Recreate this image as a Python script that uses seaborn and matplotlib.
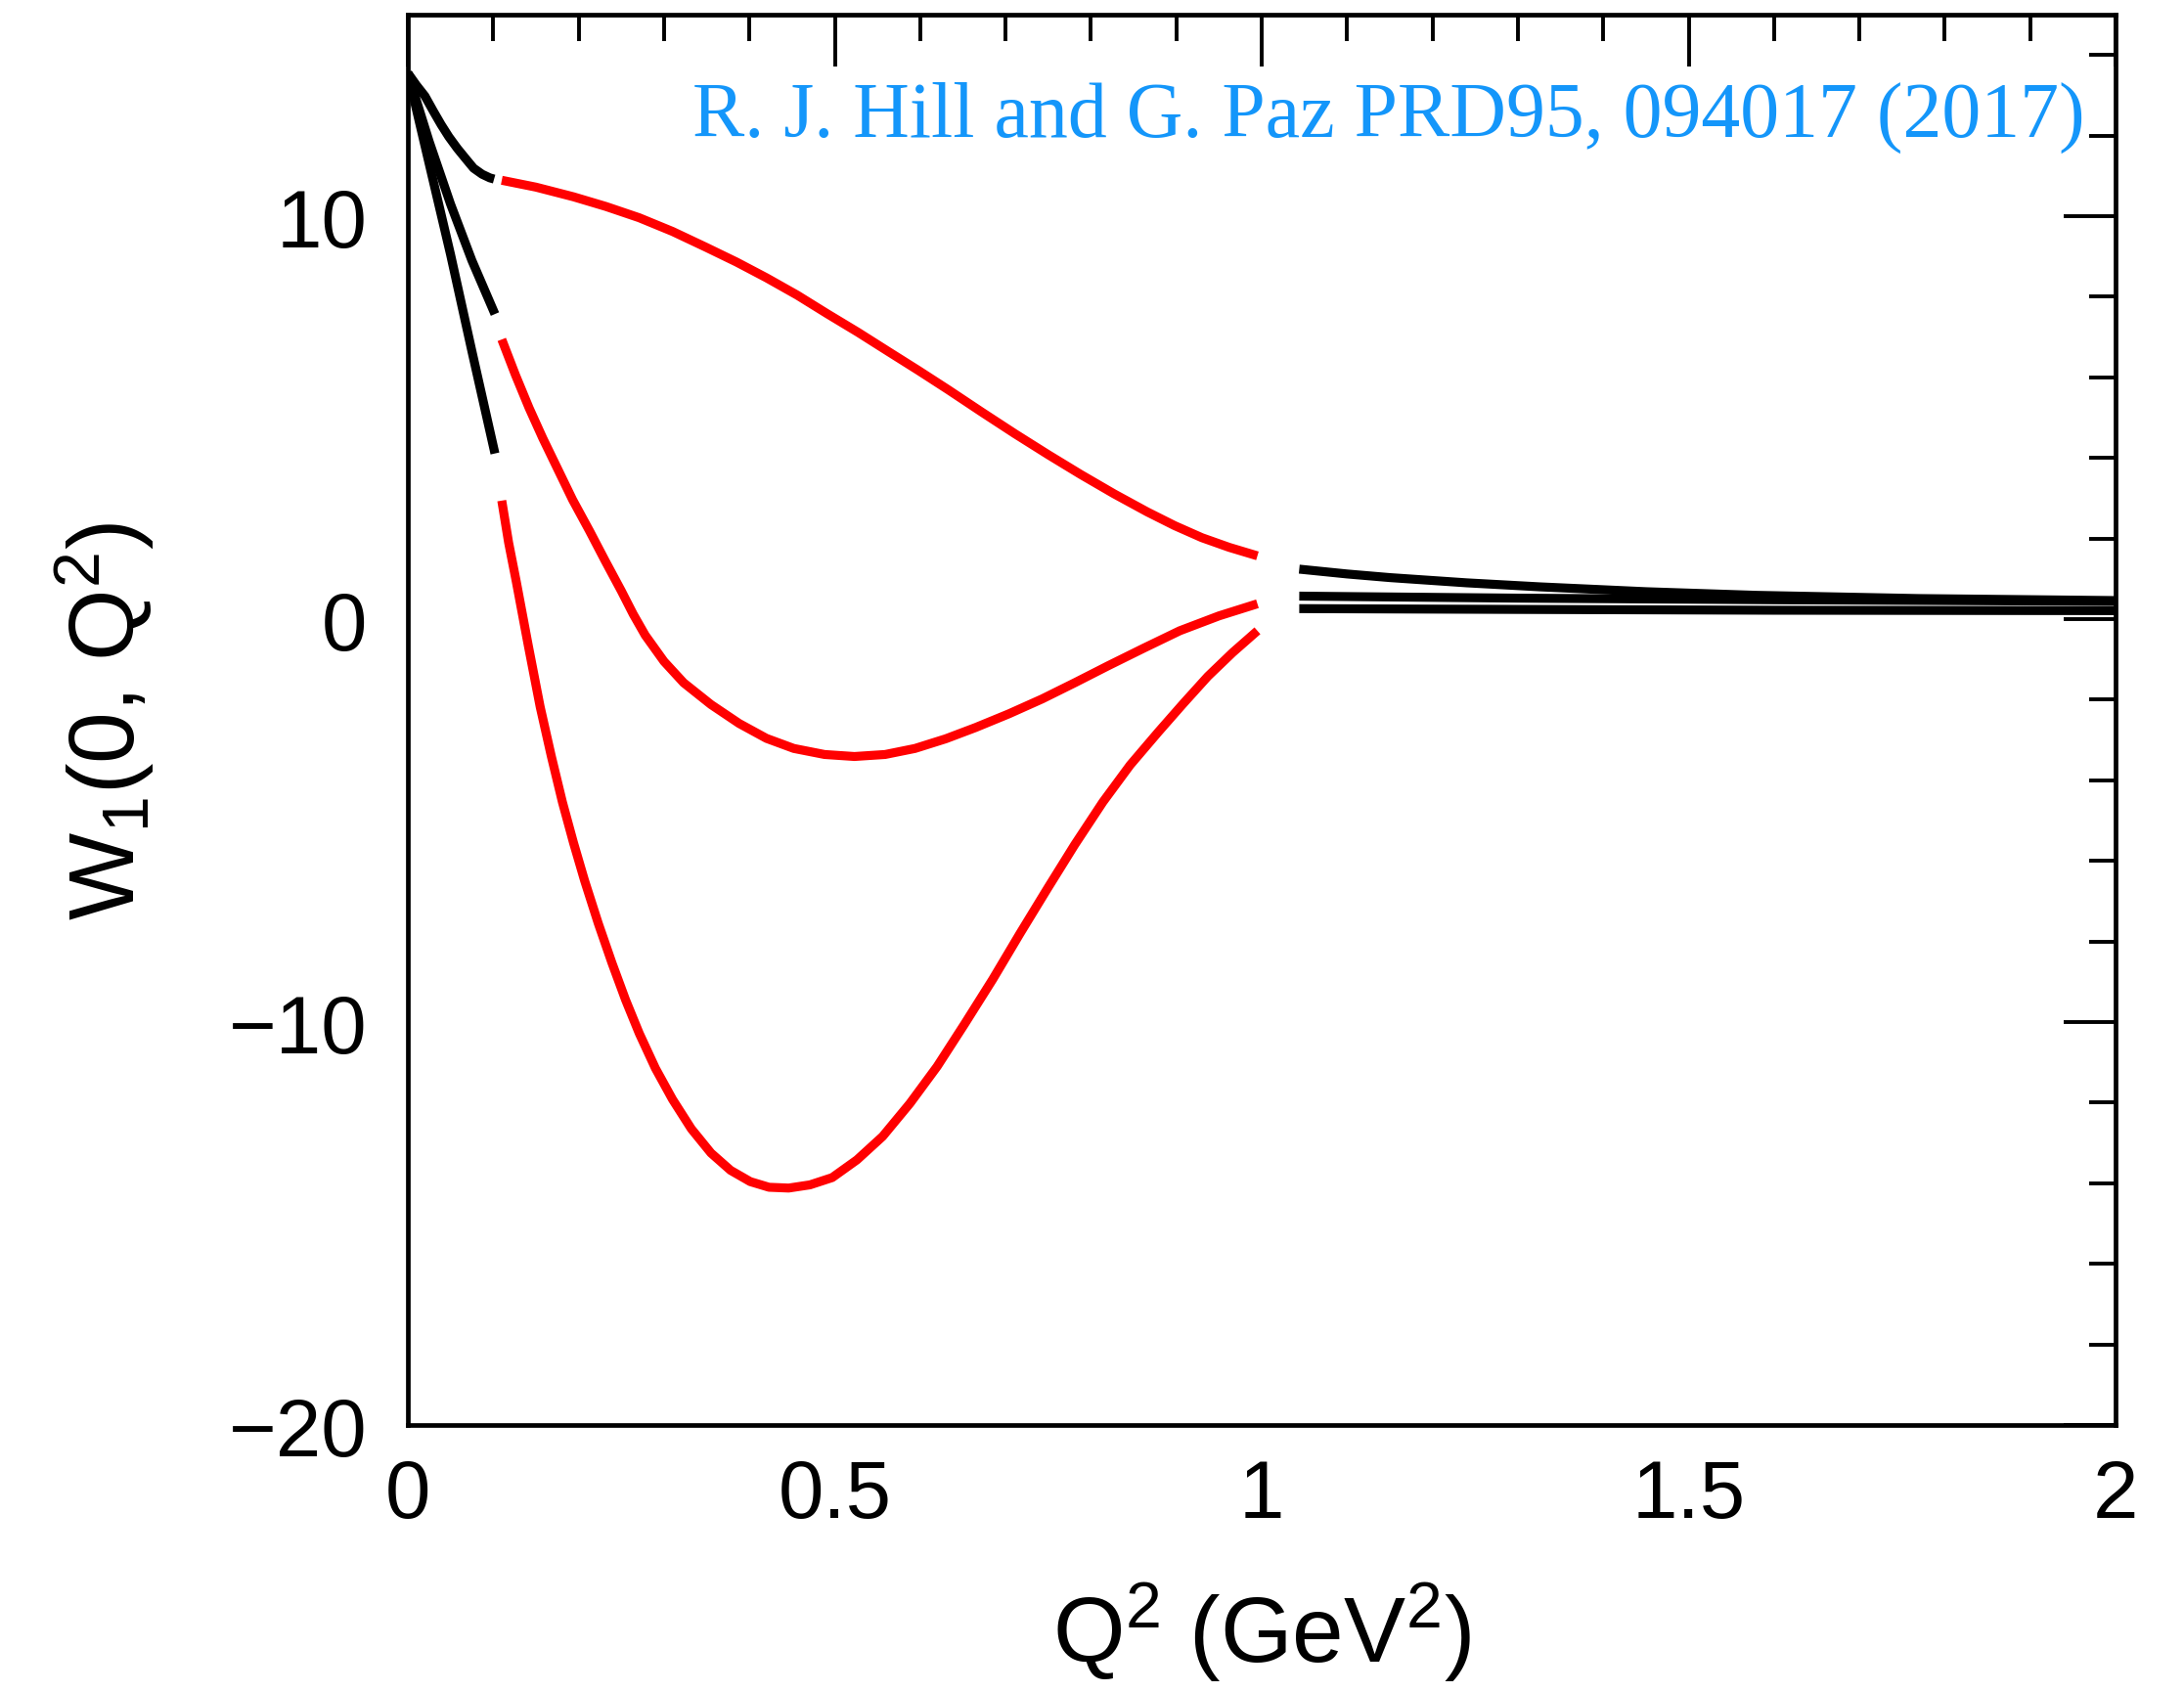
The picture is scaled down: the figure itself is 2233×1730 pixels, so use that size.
import numpy as np
import pandas as pd
import matplotlib
matplotlib.use("Agg")
import matplotlib.pyplot as plt
from matplotlib.ticker import MultipleLocator
import seaborn as sns

# ---- data ----
# low-Q2 black segments (0 < Q2 < 0.1)
blk_lo_x = [0.0, 0.01, 0.02, 0.03, 0.039, 0.048, 0.058, 0.068, 0.077, 0.087, 0.096, 0.101]
blk_lo_top = [13.55, 13.25, 12.98, 12.6, 12.27, 11.97, 11.68, 11.42, 11.19, 11.04, 10.95, 10.92]
blk_lo_mid_x = [0.0, 0.025, 0.05, 0.075, 0.102]
blk_lo_mid = [13.55, 11.85, 10.3, 8.9, 7.57]
blk_lo_bot_x = [0.0, 0.025, 0.05, 0.075, 0.102]
blk_lo_bot = [13.55, 11.3, 9.05, 6.65, 4.11]

# red segments (0.1 < Q2 < 1)
red_top_x = [0.110, 0.150, 0.194, 0.232, 0.271, 0.310, 0.349, 0.385, 0.420, 0.456,
             0.491, 0.527, 0.562, 0.598, 0.633, 0.672, 0.711, 0.750, 0.788, 0.827,
             0.866, 0.898, 0.930, 0.962, 0.995]
red_top = [10.89, 10.72, 10.48, 10.24, 9.96, 9.62, 9.23, 8.86, 8.47, 8.04,
           7.58, 7.12, 6.65, 6.17, 5.69, 5.14, 4.60, 4.08, 3.59, 3.11,
           2.66, 2.32, 2.02, 1.78, 1.57]
red_mid_x = [0.110, 0.126, 0.142, 0.158, 0.174, 0.193, 0.213, 0.231, 0.250, 0.264,
             0.278, 0.300, 0.323, 0.355, 0.388, 0.420, 0.452, 0.488, 0.523, 0.559,
             0.594, 0.630, 0.665, 0.704, 0.743, 0.782, 0.820, 0.862, 0.904, 0.950, 0.995]
red_mid = [6.94, 6.06, 5.24, 4.49, 3.79, 2.96, 2.18, 1.45, 0.70, 0.12,
           -0.40, -1.05, -1.58, -2.12, -2.59, -2.96, -3.21, -3.36, -3.41, -3.36,
           -3.21, -2.97, -2.69, -2.35, -1.98, -1.57, -1.16, -0.72, -0.29, 0.08, 0.38]
red_bot_x = [0.110, 0.118, 0.127, 0.141, 0.155, 0.168, 0.181, 0.194, 0.207, 0.223,
             0.239, 0.255, 0.271, 0.290, 0.310, 0.332, 0.355, 0.378, 0.401, 0.423,
             0.446, 0.471, 0.497, 0.526, 0.556, 0.588, 0.620, 0.652, 0.685, 0.717,
             0.749, 0.781, 0.814, 0.846, 0.879, 0.908, 0.937, 0.966, 0.995]
red_bot = [2.94, 1.90, 0.93, -0.65, -2.18, -3.40, -4.54, -5.55, -6.49, -7.55,
           -8.53, -9.45, -10.28, -11.15, -11.92, -12.65, -13.25, -13.68, -13.96, -14.10,
           -14.12, -14.04, -13.86, -13.42, -12.84, -12.02, -11.10, -10.05, -8.94, -7.80,
           -6.69, -5.60, -4.54, -3.62, -2.80, -2.10, -1.42, -0.83, -0.29]

# high-Q2 black segments (Q2 > 1)
blk_hi_top_x = [1.044, 1.1, 1.15, 1.24, 1.326, 1.45, 1.579, 1.769, 2.0]
blk_hi_top = [1.24, 1.12, 1.03, 0.90, 0.80, 0.68, 0.59, 0.51, 0.46]
blk_hi_mid_x = [1.044, 1.3, 1.6, 2.0]
blk_hi_mid = [0.57, 0.52, 0.48, 0.44]
blk_hi_bot_x = [1.044, 1.3, 1.6, 2.0]
blk_hi_bot = [0.26, 0.24, 0.22, 0.21]

x_label = r"Q$^2$ (GeV$^2$)"
y_label = r"W$_1$(0, Q$^2$)"
note = "R. J. Hill and G. Paz PRD95, 094017 (2017)"

# ---- style ----
sns.set_style("white")
plt.rcParams["font.family"] = ["Liberation Sans", "DejaVu Sans"]
plt.rcParams["mathtext.fontset"] = "custom"
plt.rcParams["mathtext.rm"] = "Liberation Sans"
plt.rcParams["mathtext.it"] = "Liberation Sans"
plt.rcParams["mathtext.bf"] = "Liberation Sans:bold"
for k in ["text.color", "axes.labelcolor", "xtick.color", "ytick.color",
          "axes.edgecolor", "xtick.labelcolor", "ytick.labelcolor"]:
    plt.rcParams[k] = "black"

fig = plt.figure(figsize=(22.33, 17.31), dpi=100)
ax = fig.add_axes([417 / 2233, 1 - 1458 / 1731, (2163 - 417) / 2233, (1458 - 16) / 1731])

segments = [
    (blk_lo_x, blk_lo_top, "black"),
    (blk_lo_mid_x, blk_lo_mid, "black"),
    (blk_lo_bot_x, blk_lo_bot, "black"),
    (red_top_x, red_top, "#ff0000"),
    (red_mid_x, red_mid, "#ff0000"),
    (red_bot_x, red_bot, "#ff0000"),
    (blk_hi_top_x, blk_hi_top, "black"),
    (blk_hi_mid_x, blk_hi_mid, "black"),
    (blk_hi_bot_x, blk_hi_bot, "black"),
]
for xs, ys, c in segments:
    df = pd.DataFrame({"x": xs, "y": ys})
    sns.lineplot(data=df, x="x", y="y", color=c, ax=ax,
                 sort=False, estimator=None)

for line in ax.lines:
    line.set_linewidth(6.6)
    line.set_solid_capstyle("butt")
    line.set_solid_joinstyle("round")

ax.set_xlim(0, 2)
ax.set_ylim(-20, 15)
ax.xaxis.set_major_locator(MultipleLocator(0.5))
ax.xaxis.set_minor_locator(MultipleLocator(0.1))
ax.yaxis.set_major_locator(MultipleLocator(10))
ax.yaxis.set_minor_locator(MultipleLocator(2))
ax.set_xticks([0, 0.5, 1, 1.5, 2])
ax.set_xticklabels(["0", "0.5", "1", "1.5", "2"])

for s in ax.spines.values():
    s.set_linewidth(3.4)
    s.set_color("black")

ax.tick_params(which="both", direction="in", top=True, right=True,
               color="black", width=2.8)
ax.tick_params(which="major", length=38)
ax.tick_params(which="minor", length=19.5)
ax.tick_params(axis="x", which="major", labelsize=60, pad=24)
ax.tick_params(axis="y", which="major", labelsize=60, pad=30)

ax.set_xlabel(x_label, fontsize=68, color="black")
ax.xaxis.set_label_coords(0.5, -0.11)
ax.set_ylabel(y_label, fontsize=68, va="center", color="black")
ax.yaxis.set_label_coords(-0.1775, 0.5)

ax.text(0.982, 0.914, note, transform=ax.transAxes, ha="right", va="baseline",
        fontsize=57.5, color="#1496fa", family=["Liberation Serif", "DejaVu Serif"])

fig.savefig("out.png", dpi=100)
